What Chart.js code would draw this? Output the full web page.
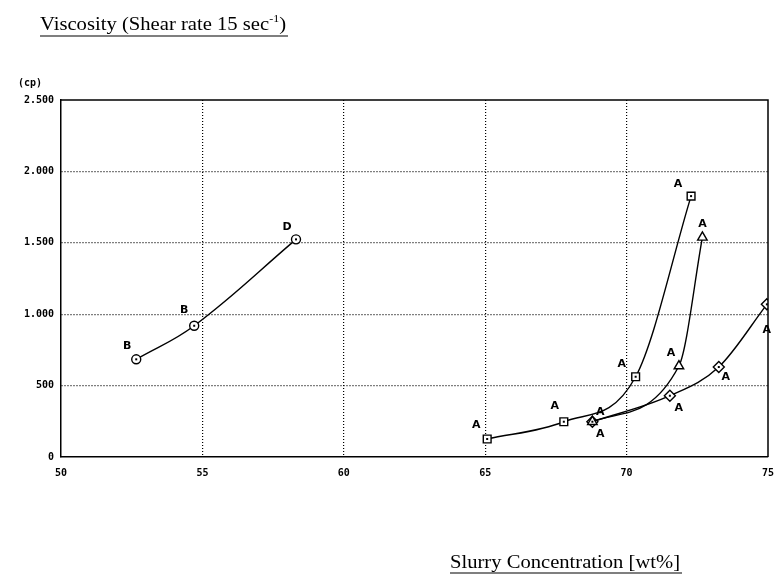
<!DOCTYPE html>
<html>
<head>
<meta charset="utf-8">
<script src="https://cdn.jsdelivr.net/npm/chart.js@4/dist/chart.umd.min.js"></script>
<style>
html,body{margin:0;padding:0;background:#fff;}
canvas{display:block;}
</style>
</head>
<body>
<canvas id="c" width="777" height="577"></canvas>
<script>
// ---- data ----
const circleX = [52.66, 54.71, 58.31];
const circleY = [684, 919, 1524];
const circleLabels = ['B', 'B', 'D'];

const squareX = [65.07, 67.78, 70.32, 72.28];
const squareY = [126, 247, 562, 1827];
const squareLabels = ['A', 'A', 'A', 'A'];

const triangleX = [68.79, 71.85, 72.68];
const triangleY = [247, 637, 1538];
const triangleLabels = ['A', 'A', 'A'];

const diamondX = [68.79, 71.53, 73.26, 74.96];
const diamondY = [247, 429, 630, 1069];
const diamondLabels = ['A', 'A', 'A', 'A'];

const xTicks = [50, 55, 60, 65, 70, 75];
const yTicks = [0, 500, 1000, 1500, 2000, 2500];
const yTickLabels = ['0', '500', '1.000', '1.500', '2.000', '2.500'];

const titleText = 'Viscosity (Shear rate 15 sec';
const titleSup = '-1';
const xTitle = 'Slurry Concentration [wt%]';
const yUnit = '(cp)';

// ---- styling / label placement (not data) ----
const labelOffsets = {
  circle: [[-9, -13], [-10, -16], [-9, -12]],
  square: [[-11, -14], [-9, -16], [-14, -13], [-13, -12]],
  triangle: [[8, -10], [-8, -13], [0, -13]],
  diamond: [[8, 12], [9, 12], [7, 10], [0, 26]]
};

function pts(xs, ys) { return xs.map((x, i) => ({x: x, y: ys[i]})); }

const base = {
  borderColor: '#000', backgroundColor: '#fff', borderWidth: 1.4,
  pointBorderColor: '#000', pointBackgroundColor: '#fff', pointBorderWidth: 1.4,
  showLine: true, fill: false
};

const datasets = [
  Object.assign({}, base, {data: pts(circleX, circleY), pointStyle: 'circle', pointRadius: 4.5, key: 'circle', labels: circleLabels, dot: true, tension: 0.4}),
  Object.assign({}, base, {data: pts(squareX, squareY), pointStyle: 'rect', pointRadius: 5.5, key: 'square', labels: squareLabels, dot: true, cubicInterpolationMode: 'monotone'}),
  Object.assign({}, base, {data: pts(triangleX, triangleY), pointStyle: 'triangle', pointRadius: 5.5, key: 'triangle', labels: triangleLabels, dot: false, cubicInterpolationMode: 'monotone'}),
  Object.assign({}, base, {data: pts(diamondX, diamondY), pointStyle: 'rectRot', pointRadius: 5.5, key: 'diamond', labels: diamondLabels, dot: true, cubicInterpolationMode: 'monotone'})
];

function stretchedText(ctx, parts, x, y, targetW) {
  let w = 0;
  parts.forEach(p => { ctx.font = p.font; p.w = ctx.measureText(p.t).width; w += p.w; });
  const sx = targetW / w;
  ctx.save();
  ctx.translate(x, y);
  ctx.scale(sx, 1);
  let cx = 0;
  parts.forEach(p => { ctx.font = p.font; ctx.fillText(p.t, cx, p.dy || 0); cx += p.w; });
  ctx.restore();
  return targetW;
}

const decor = {
  id: 'decor',
  afterDatasetsDraw(chart) {
    const ctx = chart.ctx;
    const a = chart.chartArea;
    ctx.save();
    ctx.strokeStyle = '#000';
    ctx.lineWidth = 1.5;
    ctx.beginPath();
    ctx.moveTo(a.left, a.top); ctx.lineTo(a.right, a.top); ctx.lineTo(a.right, a.bottom);
    ctx.stroke();
    chart.data.datasets.forEach((ds, di) => {
      const meta = chart.getDatasetMeta(di);
      meta.data.forEach((el, i) => {
        if (ds.dot) {
          ctx.fillStyle = '#000';
          ctx.fillRect(el.x - 1, el.y - 1, 2, 2);
        }
        const off = labelOffsets[ds.key][i];
        ctx.fillStyle = '#000';
        ctx.font = 'bold 11px "DejaVu Sans"';
        ctx.textAlign = 'center';
        ctx.textBaseline = 'middle';
        ctx.fillText(ds.labels[i], el.x + off[0], el.y + off[1]);
      });
    });
    ctx.fillStyle = '#000';
    ctx.textBaseline = 'alphabetic';
    ctx.textAlign = 'left';
    const f = '19px "Liberation Serif"';
    const tx = 40, ty = 30;
    const tw = stretchedText(ctx, [
      {t: titleText, font: f},
      {t: titleSup, font: '11px "Liberation Serif"', dy: -8},
      {t: ')', font: f}
    ], tx, ty, 246);
    ctx.lineWidth = 1.2;
    ctx.beginPath(); ctx.moveTo(tx, ty + 6); ctx.lineTo(tx + tw + 2, ty + 6); ctx.stroke();

    const bx = 450, by = 568;
    const bw = stretchedText(ctx, [{t: xTitle, font: f}], bx, by, 230);
    ctx.beginPath(); ctx.moveTo(bx, by + 5); ctx.lineTo(bx + bw + 2, by + 5); ctx.stroke();

    ctx.font = 'bold 10px "DejaVu Sans Mono"';
    ctx.fillText(yUnit, 18, 86);
    ctx.restore();
  }
};

new Chart(document.getElementById('c'), {
  type: 'scatter',
  data: {datasets: datasets},
  options: {
    responsive: false,
    animation: false,
    devicePixelRatio: 1,
    layout: {padding: {top: 100, right: 9, bottom: 100, left: 0}},
    plugins: {legend: {display: false}, tooltip: {enabled: false}, title: {display: false}},
    scales: {
      x: {
        type: 'linear', min: 50, max: 75,
        afterBuildTicks: (s) => { s.ticks = xTicks.map(v => ({value: v})); },
        afterFit: (s) => { s.height = 20; s.paddingLeft = 0; s.paddingRight = 0; },
        ticks: {color: '#000', font: {family: 'DejaVu Sans Mono', weight: 'bold', size: 10}, padding: 10, maxRotation: 0,
          callback: (v) => String(v)},
        grid: {drawTicks: false, lineWidth: 1.2,
          color: (c) => (c.index === 0 || c.index === xTicks.length - 1) ? 'rgba(0,0,0,0)' : '#000'},
        border: {display: true, color: '#000', width: 1.5, dash: [1, 2]}
      },
      y: {
        type: 'linear', min: 0, max: 2500,
        afterBuildTicks: (s) => { s.ticks = yTicks.map(v => ({value: v})); },
        afterFit: (s) => { s.width = 61; s.paddingTop = 0; s.paddingBottom = 0; },
        ticks: {color: '#000', font: {family: 'DejaVu Sans Mono', weight: 'bold', size: 10}, padding: 7,
          callback: (v) => yTickLabels[yTicks.indexOf(v)]},
        grid: {drawTicks: false, lineWidth: 1.2,
          color: (c) => (c.index === 0 || c.index === yTicks.length - 1) ? 'rgba(0,0,0,0)' : '#000'},
        border: {display: true, color: '#000', width: 1.5, dash: [1, 2]}
      }
    }
  },
  plugins: [decor]
});
</script>
</body>
</html>
